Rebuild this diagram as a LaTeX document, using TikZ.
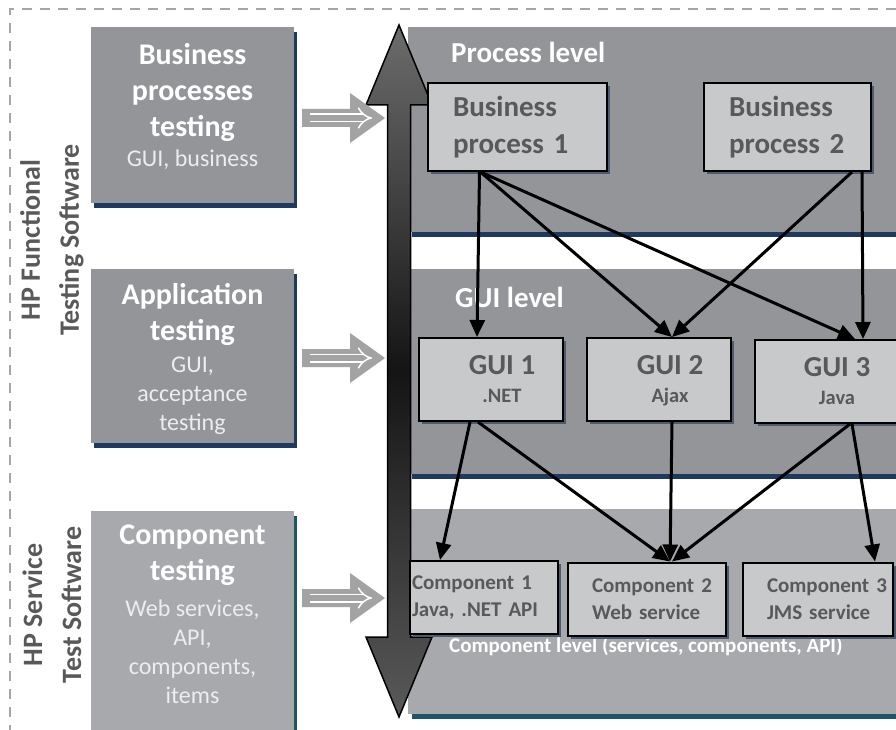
\documentclass[tikz,border=0pt]{standalone}
\usepackage{fontspec}
\setmainfont{Carlito}
\usetikzlibrary{arrows.meta,shadows}

\definecolor{panelgray}{HTML}{939598}
\definecolor{compgray}{HTML}{A7A9AC}
\definecolor{boxfill}{HTML}{C8C9CB}
\definecolor{boxtext}{HTML}{58595B}
\definecolor{labelgray}{HTML}{595959}
\definecolor{navyline}{HTML}{1F3A5F}
\definecolor{tealline}{HTML}{1E5666}
\definecolor{slate}{HTML}{4E5B6E}
\definecolor{arrowgray}{HTML}{A3A3A3}
\definecolor{framegray}{HTML}{A6A6A6}

\tikzset{
  testbox/.style={fill=panelgray, minimum width=203pt, inner sep=0pt,
    drop shadow={shadow xshift=3pt, shadow yshift=-5pt, fill=navyline, opacity=1}},
  titletext/.style={text=white, align=center, inner sep=0pt, anchor=base,
    font=\fontsize{30}{36}\selectfont\bfseries},
  subtext/.style={text=white!93!black, align=center, inner sep=0pt, anchor=base,
    font=\fontsize{24}{29}\selectfont},
  levelpanel/.style={fill=panelgray, minimum width=492pt, minimum height=205pt, inner sep=0pt,
    drop shadow={shadow xshift=4pt, shadow yshift=-5pt, fill=navyline, opacity=1}},
  leveltitle/.style={text=white, anchor=base west, inner sep=0pt},
  boxshadow/.style={drop shadow={shadow xshift=3pt, shadow yshift=-3pt, fill=slate, opacity=1}},
  procbox/.style={draw=black, line width=2pt, fill=boxfill, text=boxtext, align=left,
    text width=#1, inner xsep=25pt, minimum height=88pt, boxshadow,
    font=\fontsize{29}{37}\selectfont\bfseries},
  guibox/.style={draw=black, line width=2pt, fill=boxfill, minimum width=144pt,
    minimum height=83pt, inner sep=0pt, boxshadow},
  guiname/.style={text=boxtext, anchor=base, inner sep=0pt, font=\fontsize{29}{29}\selectfont\bfseries},
  guitech/.style={text=boxtext, anchor=base, inner sep=0pt, font=\fontsize{20.5}{20.5}\selectfont\bfseries},
  compbox/.style={draw=black, line width=2pt, fill=boxfill, text=boxtext, align=left,
    text width=#1, inner xsep=24pt, minimum height=73pt, boxshadow,
    font=\fontsize{21}{27}\selectfont\bfseries},
  flow/.style={line width=3pt, -{Triangle[length=17pt,width=15pt]}},
  implies/.style={white, line width=1.5pt, double=arrowgray, double distance=6pt, -{Implies}},
  sidelabel/.style={rotate=90, text=labelgray, align=center, inner sep=0pt,
    font=\fontsize{28}{39}\selectfont\bfseries}
}

\begin{document}
\begin{tikzpicture}[x=1pt,y=-1pt]
  \useasboundingbox (0,0) rectangle (896,730);
  \draw[framegray, line width=2pt, dash pattern=on 10pt off 8pt] (896,9) -- (10,9) -- (10,730);

  % testing kinds
  \node[testbox, minimum height=176pt] (bpt) at (192.5,115) {};
  \node[testbox, minimum height=174pt] (apt) at (192.5,356) {};
  \node[testbox, fill=compgray, minimum height=224pt,
    drop shadow={shadow xshift=3pt, shadow yshift=-6pt, fill=tealline, opacity=1}] (cpt) at (192.5,623) {};
  \node[titletext] (bpt-t) at (192.5,137) {Business\\processes\\testing};
  \node[subtext] (bpt-s) at (192.5,167) {GUI, business};
  \node[titletext] (apt-t) at (192.5,340) {Application\\testing};
  \begin{scope}
    \clip (91,269) rectangle (294,433);
    \node[subtext] (apt-s) at (192.5,430) {GUI,\\acceptance\\testing};
  \end{scope}
  \node[titletext] (cpt-t) at (192.5,580) {Component\\testing};
  \node[subtext] (cpt-s) at (192.5,703) {Web services,\\API,\\components,\\items};

  % levels
  \node[levelpanel] (proc) at (654,129.5) {};
  \node[levelpanel] (gui) at (654,371.5) {};
  \node[levelpanel, fill=compgray,
    drop shadow={shadow xshift=4pt, shadow yshift=-5pt, fill=tealline, opacity=1}] (comp) at (654,611) {};
  \node[leveltitle, font=\fontsize{29}{29}\selectfont\bfseries] (proc-t) at (451,63) {Process level};
  \node[leveltitle, font=\fontsize{29}{29}\selectfont\bfseries] (gui-t) at (455,307) {GUI level};
  \node[leveltitle, font=\fontsize{21}{21}\selectfont\bfseries] (comp-t) at (449,652)
    {Component level (services, components, API)};

  % up and down arrow
  \shade[draw=black, line width=1.5pt, top color=gray!85!black, bottom color=gray!70!black, middle color=black!92]
    (399,25) -- (432,105) -- (410.5,105) -- (410.5,637) -- (432,637) -- (399,717)
    -- (366,637) -- (387.5,637) -- (387.5,105) -- (366,105) -- cycle;

  % boxes
  \node[procbox=129pt] (bp1) at (517.5,127) {Business\\\mbox{process 1}};
  \node[procbox=117pt] (bp2) at (787.5,127) {Business\\\mbox{process 2}};
  \node[guibox] (gui1) at (491,379.5) {};
  \node[guibox] (gui2) at (659,379.5) {};
  \node[guibox] (gui3) at (827,381.5) {};
  \node[guiname] (gui1-n) at (502,374) {GUI 1};
  \node[guitech] (gui1-t) at (502,402) {.NET};
  \node[guiname] (gui2-n) at (670,374) {GUI 2};
  \node[guitech] (gui2-t) at (670,402) {Ajax};
  \node[guiname] (gui3-n) at (837,376) {GUI 3};
  \node[guitech] (gui3-t) at (837,404) {Java};
  \node[compbox=144pt, inner xsep=2pt] (c1) at (484,597.5) {\mbox{Component 1}\\\mbox{Java, .NET API}};
  \node[compbox=110pt] (c2) at (647,599) {\mbox{Component 2}\\\mbox{Web service}};
  \node[compbox=102pt] (c3) at (818,599) {\mbox{Component 3}\\\mbox{JMS service}};

  \path[flow] ([xshift=-38pt]bp1.south) edge ([xshift=-14pt]gui1.north)
    ([xshift=-37pt]bp1.south) edge ([xshift=13pt]gui2.north)
    ([xshift=-37pt]bp1.south) edge ([xshift=28pt]gui3.north)
    ([xshift=64.5pt]bp2.south) edge ([xshift=13pt]gui2.north)
    ([xshift=74.5pt]bp2.south) edge ([xshift=36pt]gui3.north)
    ([xshift=-21pt]gui1.south) edge ([xshift=-44pt]c1.north)
    ([xshift=-13pt]gui1.south) edge ([xshift=23pt]c2.north)
    ([xshift=13pt]gui2.south) edge ([xshift=23pt]c2.north)
    ([xshift=23pt]gui3.south) edge ([xshift=25pt]c2.north)
    ([xshift=25pt]gui3.south) edge ([xshift=57pt]c3.north);

  % hand over
  \foreach \y in {118,358,598} {
    \fill[arrowgray] (302,\y-9) -- (350,\y-9) -- (350,\y-25) -- (385,\y)
      -- (350,\y+25) -- (350,\y+9) -- (302,\y+9) -- cycle;
    \draw[implies] (310,\y) -- (372,\y);
  }

  \node[sidelabel] (hpft) at (52,240) {HP Functional\\Testing Software};
  \node[sidelabel] (hpst) at (52,605) {HP Service\\Test Software};
\end{tikzpicture}
\end{document}
